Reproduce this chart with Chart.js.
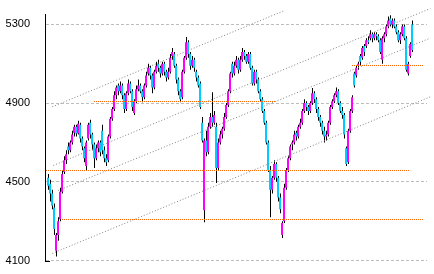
<!DOCTYPE html>
<html>
<head>
<meta charset="utf-8">
<script src="https://cdn.jsdelivr.net/npm/chart.js@4.4.0/dist/chart.umd.min.js"></script>
<style>
  html, body { margin: 0; padding: 0; background: #fff; }
  #wrap { width: 434px; height: 274px; }
</style>
</head>
<body>
<div id="wrap"><canvas id="kline" width="434" height="274"></canvas></div>
<script>
// daily candles (oldest first)
const opens = [
  4520,4490,4440,4370,4150,4230,4310,4450,4550,4610,
  4680,4660,4700,4750,4780,4745,4790,4720,4670,4580,
  4720,4800,4740,4690,4620,4670,4700,4760,4660,4620,
  4610,4730,4820,4870,4940,4990,4960,4990,4940,4870,
  4950,5000,4960,4850,4910,4970,4990,4960,4930,4990,
  5050,5080,5040,4980,5060,5100,5080,5050,5100,5060,
  5030,5060,5140,5150,5090,5020,4960,4930,5060,5130,
  5210,5150,5090,5120,5060,5030,5000,4800,4355,
  4710,4650,4780,4830,4800,4780,4570,4700,4740,4770,
  4830,4890,4960,5100,5050,5090,5120,5070,5120,5160,
  5140,5110,5150,5080,5000,5060,5020,4960,4920,4860,
  4800,4700,4560,4460,4520,4590,4520,4420,4230,4300,
  4470,4560,4620,4690,4700,4750,4730,4780,4800,4860,
  4900,4880,4860,4900,4950,4920,4870,4830,4800,4760,
  4730,4740,4800,4880,4910,4940,4960,4900,4860,4840,
  4670,4600,4760,4860,5050,5040,5090,5140,5130,5190,
  5190,5220,5230,5250,5230,5250,5240,5220,5120,5230,
  5250,5290,5330,5300,5320,5290,5260,5220,5250,5290,
  5230,5050,5140,5300
];
const highs = [
  4540,4510,4460,4390,4240,4320,4470,4560,4630,4660,
  4700,4710,4760,4790,4790,4810,4800,4730,4680,4710,
  4800,4815,4750,4700,4690,4710,4710,4790,4680,4640,
  4740,4830,4880,4960,4990,5000,5010,5000,4950,4960,
  5020,5010,4970,4920,4990,5020,5000,4970,5000,5060,
  5100,5090,5050,5070,5110,5120,5090,5110,5110,5070,
  5080,5150,5180,5160,5100,5030,4970,5070,5140,5236,
  5220,5160,5140,5130,5070,5040,5010,4830,4720,
  4760,4800,4850,4955,4860,4800,4720,4760,4780,4850,
  4900,4970,5060,5110,5110,5140,5130,5140,5180,5170,
  5150,5160,5160,5090,5070,5070,5030,4970,4930,4870,
  4810,4710,4580,4530,4610,4600,4530,4440,4300,4490,
  4570,4630,4690,4710,4760,4760,4790,4820,4870,4920,
  4910,4890,4910,4977,4960,4930,4880,4840,4810,4780,
  4760,4810,4890,4920,4950,4980,4970,4910,4880,4850,
  4680,4770,4870,4940,5060,5090,5110,5150,5190,5200,
  5230,5240,5270,5260,5260,5260,5250,5230,5240,5260,
  5300,5340,5347,5330,5330,5300,5270,5260,5300,5300,
  5240,5110,5210,5320
];
const lows = [
  4460,4400,4360,4230,4120,4200,4300,4440,4540,4590,
  4640,4650,4690,4730,4730,4740,4700,4660,4600,4558,
  4710,4720,4660,4570,4610,4650,4630,4640,4600,4580,
  4600,4720,4810,4860,4920,4940,4950,4920,4850,4860,
  4940,4950,4860,4840,4900,4960,4950,4905,4920,4980,
  5040,5020,4950,4970,5050,5060,5030,5040,5040,5010,
  5020,5050,5120,5080,5000,4940,4905,4920,5050,5120,
  5130,5070,5080,5060,5010,4980,4870,4700,4295,
  4630,4640,4770,4780,4790,4494,4560,4690,4720,4760,
  4820,4880,4950,5030,5040,5080,5050,5060,5110,5120,
  5100,5100,5070,4990,4990,5000,4950,4910,4850,4790,
  4690,4550,4320,4440,4510,4500,4400,4340,4215,4290,
  4460,4550,4610,4660,4690,4710,4720,4770,4790,4850,
  4860,4840,4850,4890,4900,4850,4810,4780,4740,4700,
  4710,4730,4790,4870,4900,4930,4890,4850,4820,4720,
  4580,4590,4750,4850,4980,5030,5070,5090,5120,5140,
  5180,5200,5220,5210,5220,5220,5210,5150,5100,5210,
  5240,5280,5290,5280,5280,5250,5210,5200,5240,5220,
  5060,5040,5130,5160
];
const closes = [
  4480,4440,4380,4260,4230,4300,4450,4540,4610,4640,
  4660,4700,4740,4780,4745,4795,4720,4680,4620,4700,
  4790,4740,4690,4620,4670,4700,4650,4660,4620,4600,
  4730,4820,4870,4940,4980,4960,4990,4940,4870,4950,
  5000,4960,4880,4910,4970,4990,4960,4930,4990,5040,
  5080,5040,4980,5060,5090,5080,5050,5100,5060,5030,
  5060,5130,5160,5090,5020,4960,4920,5060,5130,5210,
  5150,5090,5120,5080,5030,4990,4880,4710,4710,
  4650,4780,4830,4800,4840,4570,4700,4740,4770,4830,
  4890,4960,5050,5050,5090,5120,5070,5120,5160,5140,
  5110,5150,5080,5000,5060,5020,4960,4920,4860,4800,
  4700,4560,4460,4520,4590,4520,4420,4360,4290,4470,
  4560,4620,4680,4700,4740,4730,4780,4800,4860,4900,
  4880,4860,4900,4950,4920,4870,4830,4800,4760,4730,
  4740,4800,4880,4910,4940,4960,4900,4860,4840,4740,
  4590,4760,4860,4930,4990,5080,5100,5110,5180,5160,
  5220,5210,5250,5230,5250,5240,5220,5160,5230,5250,
  5290,5320,5300,5320,5290,5260,5220,5250,5290,5230,
  5070,5100,5200,5170
];

const yTicks = [4100, 4500, 4900, 5300];

// orange horizontal levels (value, from candle, to candle)
const levelValues = [4908.2, 5091.2, 4557.5, 4308.4];
const levelFrom = [22.5, 151.5, -1.5, 6.5];
const levelTo = [113.65, 188, 181, 188];

// gray dotted trend channel lines
const trendFrom = [2.15, 2.65, 5.15, 2.15];
const trendTo = [117.85, 191.15, 191, 191.15];
const trendStartVal = [4881, 4583, 4456, 4136];
const trendEndVal = [5369, 5381, 5230, 4932];

const UP = '#ff00ff';
const DOWN = '#00ccff';

// 1-on / 1-off pixel pattern, gives the dotted orange look
function dotPattern(color) {
    const c = document.createElement('canvas');
    c.width = 2;
    c.height = 1;
    const g = c.getContext('2d');
    g.fillStyle = color;
    g.fillRect(0, 0, 1, 1);
    return g.createPattern(c, 'repeat');
}
const orangeDots = dotPattern('#ff6600');

const idx = closes.map((_, i) => i);
const wickData = idx.map(i => ({ x: i + 0.25, y: [lows[i], highs[i]] }));
const bodyData = idx.map(i => ({ x: i, y: [opens[i], closes[i]] }));
const bodyColors = idx.map(i => closes[i] > opens[i] ? UP : DOWN);

const levelSets = levelValues.map((v, i) => ({
    type: 'line',
    data: [{ x: levelFrom[i], y: v }, { x: levelTo[i], y: v }],
    borderColor: orangeDots,
    borderWidth: 1,
    pointRadius: 0,
    order: 0,
    clip: false
}));

const trendSets = trendFrom.map((f, i) => ({
    type: 'line',
    data: [{ x: f, y: trendStartVal[i] }, { x: trendTo[i], y: trendEndVal[i] }],
    borderColor: '#808080',
    borderWidth: 1,
    borderDash: [1, 2],
    pointRadius: 0,
    order: 1,
    clip: false
}));

// left axis line with the small foot at the bottom
const axisLine = {
    id: 'axisLine',
    afterDraw(chart) {
        const { ctx, chartArea } = chart;
        const x = Math.round(chartArea.left);
        const top = Math.round(chartArea.top);
        const bottom = Math.round(chartArea.bottom);
        ctx.save();
        ctx.fillStyle = '#000000';
        ctx.fillRect(x, top, 1, bottom - top + 1);
        ctx.fillRect(x, bottom, 5, 1);
        ctx.restore();
    }
};

new Chart(document.getElementById('kline').getContext('2d'), {
    type: 'bar',
    data: {
        datasets: [
            ...levelSets,
            ...trendSets,
            {
                data: bodyData,
                backgroundColor: bodyColors,
                barThickness: 2,
                grouped: false,
                borderWidth: 0,
                inflateAmount: 0,
                order: 2
            },
            {
                data: wickData,
                backgroundColor: '#000000',
                barThickness: 1,
                grouped: false,
                borderWidth: 0,
                inflateAmount: 0,
                order: 3
            }
        ]
    },
    options: {
        responsive: false,
        animation: false,
        layout: {
            padding: { top: 14, bottom: 13.5, left: 0, right: 7 }
        },
        scales: {
            x: {
                type: 'linear',
                display: false,
                offset: false,
                grid: { offset: false },
                min: -1.5,
                max: 189.5
            },
            y: {
                min: 4100,
                max: 5353,
                afterFit: s => { s.width = 45; },
                afterBuildTicks: s => { s.ticks = yTicks.map(v => ({ value: v })); },
                grid: {
                    color: '#bdbdbd',
                    drawTicks: true,
                    tickLength: 15,
                    tickColor: 'rgba(0,0,0,0)'
                },
                border: { display: true, color: '#000000', width: 1, dash: [3, 2] },
                ticks: {
                    padding: 0,
                    color: '#000000',
                    font: { family: 'Liberation Sans', size: 11 },
                    callback: v => String(v)
                }
            }
        },
        plugins: {
            legend: { display: false },
            tooltip: { enabled: false }
        }
    },
    plugins: [axisLine]
});
</script>
</body>
</html>
